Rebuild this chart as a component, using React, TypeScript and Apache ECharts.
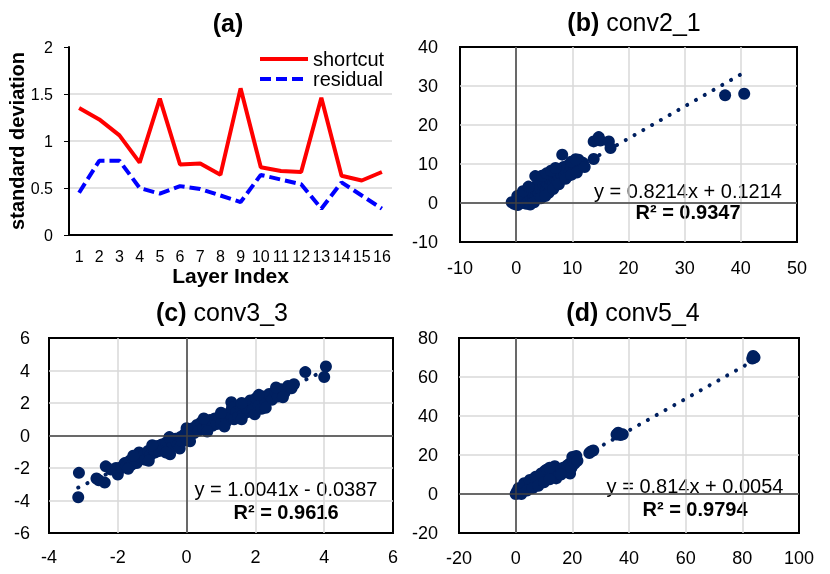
import React, { useEffect, useRef } from 'react';
import * as echarts from 'echarts';

const FONT = '"Liberation Sans", Arial, sans-serif';
const NAVY = '#002060';
const GRID_GRAY = '#d9d9d9';

// ---- Panel (a) ----
const layerIndex = ['1', '2', '3', '4', '5', '6', '7', '8', '9', '10', '11', '12', '13', '14', '15', '16'];
const shortcut = [1.35, 1.23, 1.06, 0.77, 1.45, 0.75, 0.76, 0.64, 1.56, 0.72, 0.68, 0.67, 1.46, 0.63, 0.58, 0.67];
const residual = [0.45, 0.79, 0.79, 0.5, 0.44, 0.52, 0.49, 0.42, 0.35, 0.64, 0.59, 0.54, 0.28, 0.56, 0.42, 0.28];

// ---- Panel (b) conv2_1 ----
const pointsB: [number, number][] = [
  [-0.8, 0.2], [-0.3, -0.3], [0, 0.4], [0.3, -0.5], [0.6, 0.6], [0.4, 1.2], [1, 0], [1, 1.5], [1.3, 0.6], [1.5, 2],
  [1.8, -0.2], [1.8, 1.2], [2, 2.6], [2.3, 0.5], [2.5, -0.4], [2.5, 1.8], [2.7, 3.2], [3, 1], [3, 2.4], [3.2, 4],
  [3.4, 6.9], [3.5, 1.8], [3.6, 3.2], [3.9, 4.6], [4, 2.4], [4.2, 1.5], [4.3, 3.8], [4.5, 5.5], [4.8, 2.8], [4.9, 4.4],
  [5, 6.2], [5.3, 3.4], [5.5, 5.2], [5.8, 2.6], [5.8, 6.8], [6, 4.4], [6.2, 5.8], [6.5, 7.3], [6.6, 5], [6.9, 6.3],
  [7.2, 7.8], [7.3, 5.6], [7.6, 6.8], [7.8, 8.6], [8, 7.4], [8.2, 12.4], [8.4, 9.2], [8.6, 7], [8.9, 8.2], [9.2, 9.6],
  [9.5, 8], [9.8, 9.2], [10.3, 8.6], [10.5, 9.8], [11, 8.8], [11.1, 11.1], [11.5, 9.8], [11.9, 10.3], [13.8, 11.3],
  [13.8, 15.8], [14.7, 16.9], [15, 16], [16.5, 15.8], [16.8, 14.1], [37.2, 27.6], [40.6, 28],
  [0.2, 1.8], [1.2, 3], [2.2, 4.2], [3.8, 6.2], [4.6, 7], [5.4, 7.6], [6.2, 8.3], [7, 9], [3.2, 0.2], [4.4, 1.2],
  [5.2, 1.8], [6.6, 3.6], [7.6, 4.8], [8.8, 6.2], [9.8, 7.2], [10.8, 7.8], [12.2, 9.2], [9.8, 10.6], [10.6, 11.2],
];
const fitB = [0.8214, 0.1214];
const eqB = ['y = 0.8214x + 0.1214', 'R² = 0.9347'];

// ---- Panel (c) conv3_3 ----
const pointsC: [number, number][] = [
  [-3.13, -2.3], [-3.15, -3.8], [-2.62, -2.65], [-2.55, -2.75], [-2.38, -2.9], [-2.35, -1.9], [-2.0, -2.4], [-1.98, -2.15],
  [-2.2, -2.1], [-2.05, -2.0], [-1.9, -1.95], [-1.8, -1.7], [-1.75, -1.9], [-1.65, -1.55], [-1.6, -1.8], [-1.5, -1.45],
  [-1.45, -1.7], [-1.38, -1.05], [-1.35, -1.35], [-1.25, -1.2], [-1.2, -1.5], [-1.12, -0.95], [-1.05, -1.2], [-1.0, -0.8],
  [-0.92, -1.05], [-0.85, -0.65], [-0.8, -0.95], [-0.72, -0.55], [-0.68, -0.85], [-0.6, -0.45], [-0.55, -0.75],
  [-0.48, -1.15], [-0.45, -0.3], [-0.4, -0.6], [-0.32, -0.2], [-0.28, -0.5], [-0.2, -0.8], [-0.18, -0.1], [-0.12, -0.35],
  [-0.05, 0.1], [0, -0.2], [0.05, 0.3], [0.1, 0.0], [0.18, 0.45], [0.22, 0.15], [0.3, 0.65], [0.35, 0.3], [0.42, 0.8],
  [0.48, 0.45], [0.55, 0.9], [0.6, 0.5], [0.68, 0.95], [0.75, 0.6], [0.82, 1.05], [0.88, 0.7], [0.95, 1.1], [1.0, 0.75],
  [1.08, 1.2], [1.15, 0.85], [1.22, 1.35], [1.3, 2.05], [1.32, 1.7], [1.38, 1.0], [1.45, 1.45], [1.5, 1.15], [1.58, 1.65],
  [1.65, 1.3], [1.72, 1.9], [1.78, 1.45], [1.85, 2.15], [1.92, 1.6], [1.98, 1.3], [2.02, 2.3], [2.1, 1.85], [2.18, 1.65],
  [2.22, 2.4], [2.3, 2.05], [2.4, 2.55], [2.48, 2.2], [2.58, 2.7], [2.65, 2.4], [2.75, 2.85], [2.85, 2.65], [2.95, 3.05],
  [3.05, 2.9], [3.12, 3.15], [3.45, 3.9], [4.05, 4.25], [4.0, 3.6],
  [-1.55, -1.25], [-1.0, -0.6], [-0.5, -0.1], [0, 0.45], [0.5, 1.05], [1.0, 1.4], [1.6, 2.0], [2.1, 2.5], [2.6, 2.95],
  [-1.7, -2.05], [-1.1, -1.55], [-0.6, -1.05], [0.1, -0.35], [0.6, 0.25], [1.1, 0.55], [1.6, 1.0], [2.3, 1.7], [2.8, 2.35],
];
const fitC = [1.0041, -0.0387];
const eqC = ['y = 1.0041x - 0.0387', 'R² = 0.9616'];

// ---- Panel (d) conv5_4 ----
const pointsD: [number, number][] = [
  [0, 0], [0.4, 1.2], [0.8, 0.3], [1.2, 1.8], [1.6, 0.8], [2, 2.6], [2.3, 1.4], [2.6, 3.4], [3, 2], [3.3, 4.2], [3.6, 2.6],
  [4, 5], [4.3, 3.2], [4.7, 4.4], [5, 5.8], [5.3, 3.6], [5.7, 5], [6, 6.5], [6.3, 4.2], [6.7, 5.8], [7, 7.2], [7.3, 4.8],
  [7.7, 6.5], [8, 8], [8.3, 5.5], [8.7, 7.2], [9, 8.8], [9.3, 6.3], [9.7, 7.8], [10, 9.5], [10.4, 12], [10.5, 7], [11, 8.8],
  [11.4, 10.5], [11.8, 8], [12.2, 11.5], [12.6, 9.5], [13, 12.5], [13.5, 10.5], [13.8, 14.2], [14.3, 8], [14.6, 11.8],
  [15, 13], [15.5, 10.2], [16, 12.5], [16.8, 13.5], [17.5, 12], [18.2, 14.6], [19, 15.5], [19.2, 10.5], [19.7, 13.5],
  [20, 19], [20.4, 17], [20.8, 15.6], [21, 18.2], [21.4, 19.5], [21.8, 17], [26, 21], [26.6, 21.8], [27.4, 22.3],
  [35.6, 30.5], [36.2, 31.4], [37, 30.2], [37.8, 30.6], [83.5, 69.5], [84.3, 70], [83.8, 70.8],
  [1, 3], [3, 5.5], [5, 7.2], [7, 8.8], [9, 10.5], [11, 12.5], [12, 13.5],
  [2, 0], [4, 1.8], [6, 3], [8, 4.2], [10, 6], [12, 7.5], [16, 10],
];
const fitD = [0.814, 0.0054];
const eqD = ['y = 0.814x + 0.0054', 'R² = 0.9794'];

// axis ranges for scatter panels: [min, max, interval]
const xRangeB = [-10, 50, 10];
const yRangeB = [-10, 40, 10];
const xRangeC = [-4, 6, 2];
const yRangeC = [-6, 6, 2];
const xRangeD = [-20, 100, 20];
const yRangeD = [-20, 80, 20];

const titles = ['(a)', '(b)', '(c)', '(d)'];
const layerNames = ['', 'conv2_1', 'conv3_3', 'conv5_4'];

function trend(points: [number, number][], fit: number[]) {
  const xs = points.map((p) => p[0]);
  const x0 = Math.min(...xs);
  const x1 = Math.max(...xs);
  return [
    [x0, fit[0] * x0 + fit[1]],
    [x1, fit[0] * x1 + fit[1]],
  ];
}

function valueAxis(gridIndex: number, range: number[], margin: number) {
  return {
    gridIndex,
    type: 'value',
    min: range[0],
    max: range[1],
    interval: range[2],
    axisLine: { show: false, onZero: false },
    axisTick: { show: false },
    splitLine: { show: true, showMinLine: false, showMaxLine: false, lineStyle: { color: GRID_GRAY, width: 1.5 } },
    axisLabel: { fontSize: 18, margin, color: '#000', fontFamily: FONT },
  };
}

function scatterSeries(idx: number, points: [number, number][], fit: number[]) {
  return [
    {
      type: 'line',
      xAxisIndex: idx,
      yAxisIndex: idx,
      data: trend(points, fit),
      symbol: 'none',
      silent: true,
      z: 2,
      lineStyle: { color: NAVY, width: 4, type: [0.1, 10], cap: 'round' },
      markLine: {
        silent: true,
        symbol: ['none', 'none'],
        label: { show: false },
        lineStyle: { color: '#404040', width: 1.5, type: 'solid' },
        emphasis: { disabled: true },
        data: [{ xAxis: 0 }, { yAxis: 0 }],
      },
    },
    {
      type: 'scatter',
      xAxisIndex: idx,
      yAxisIndex: idx,
      data: points,
      symbolSize: 12,
      z: 3,
      itemStyle: { color: NAVY, opacity: 1 },
    },
  ];
}

function titleText(i: number, x: number, y: number) {
  const rich = {
    b: { fontWeight: 'bold', fontSize: 25, fontFamily: FONT, fill: '#000' },
    n: { fontSize: 25, fontFamily: FONT, fill: '#000' },
  };
  const text = layerNames[i] ? `{b|${titles[i]}}{n| ${layerNames[i]}}` : `{b|${titles[i]}}`;
  return {
    type: 'text',
    x,
    y,
    style: { text, rich, align: 'center', verticalAlign: 'middle', fill: '#000' },
  };
}

function eqText(lines: string[], x: number, y1: number, y2: number) {
  return [
    {
      type: 'text',
      x,
      y: y1,
      style: { text: lines[0], font: `20px ${FONT}`, fill: '#000', align: 'center', verticalAlign: 'middle' },
    },
    {
      type: 'text',
      x,
      y: y2,
      style: { text: lines[1], font: `bold 20px ${FONT}`, fill: '#000', align: 'center', verticalAlign: 'middle' },
    },
  ];
}

export default function App() {
  const ref = useRef<HTMLDivElement>(null);
  useEffect(() => {
    if (!ref.current) return;
    const chart = echarts.init(ref.current, undefined, { renderer: 'svg' });
    const option = {
      animation: false,
      textStyle: { fontFamily: FONT },
      legend: {
        data: ['shortcut', 'residual'],
        orient: 'vertical',
        left: 258,
        top: 49,
        padding: 0,
        itemWidth: 48,
        itemHeight: 14,
        itemGap: 0,
        itemStyle: { opacity: 0 },
        lineStyle: { width: 4 },
        textStyle: { fontSize: 20, fontFamily: FONT, color: '#000' },
      },
      grid: [
        { left: 69, top: 47, width: 323, height: 188 },
        { left: 460, top: 47, width: 337, height: 195, show: true, borderColor: '#000', borderWidth: 2 },
        { left: 49, top: 338, width: 344, height: 195, show: true, borderColor: '#000', borderWidth: 2 },
        { left: 459, top: 338, width: 340, height: 195, show: true, borderColor: '#000', borderWidth: 2 },
      ],
      xAxis: [
        {
          gridIndex: 0,
          type: 'category',
          data: layerIndex,
          boundaryGap: true,
          axisLine: { show: true, lineStyle: { color: '#000', width: 2 } },
          axisTick: { show: false },
          axisLabel: { fontSize: 16, color: '#000', fontFamily: FONT, margin: 13, interval: 0 },
          name: 'Layer Index',
          nameLocation: 'middle',
          nameGap: 28,
          nameTextStyle: { fontSize: 21, fontWeight: 'bold', fontFamily: FONT, color: '#000' },
        },
        valueAxis(1, xRangeB, 17),
        valueAxis(2, xRangeC, 15),
        valueAxis(3, xRangeD, 16),
      ],
      yAxis: [
        {
          gridIndex: 0,
          type: 'value',
          min: 0,
          max: 2,
          interval: 0.5,
          axisLine: { show: true, lineStyle: { color: '#000', width: 2 } },
          axisTick: { show: true, length: 5, lineStyle: { color: '#000', width: 1 } },
          splitLine: { show: true, showMaxLine: false, showMinLine: false, lineStyle: { color: GRID_GRAY, width: 1.5 } },
          axisLabel: { fontSize: 16, color: '#000', fontFamily: FONT, margin: 16 },
          name: 'standard deviation',
          nameLocation: 'middle',
          nameGap: 33,
          nameTextStyle: { fontSize: 20, fontWeight: 'bold', fontFamily: FONT, color: '#000' },
        },
        valueAxis(1, yRangeB, 22),
        valueAxis(2, yRangeC, 19),
        valueAxis(3, yRangeD, 21),
      ],
      series: [
        {
          type: 'line',
          name: 'shortcut',
          xAxisIndex: 0,
          yAxisIndex: 0,
          data: shortcut,
          symbol: 'none',
          lineStyle: { color: '#ff0000', width: 4 },
          itemStyle: { color: '#ff0000' },
        },
        {
          type: 'line',
          name: 'residual',
          xAxisIndex: 0,
          yAxisIndex: 0,
          data: residual,
          symbol: 'none',
          lineStyle: { color: '#0000ff', width: 4, type: [11, 5] },
          itemStyle: { color: '#0000ff' },
        },
        ...scatterSeries(1, pointsB, fitB),
        ...scatterSeries(2, pointsC, fitC),
        ...scatterSeries(3, pointsD, fitD),
      ],
      graphic: [
        titleText(0, 228, 23),
        titleText(1, 634, 22),
        titleText(2, 222, 312),
        titleText(3, 633, 312),
        ...eqText(eqB, 688, 191, 212),
        ...eqText(eqC, 286, 489, 512),
        ...eqText(eqD, 695, 486, 509),
      ],
    };
    chart.setOption(option as any);
    return () => chart.dispose();
  }, []);
  return <div ref={ref} style={{ position: 'fixed', left: 0, top: 0, width: 830, height: 574 }} />;
}
